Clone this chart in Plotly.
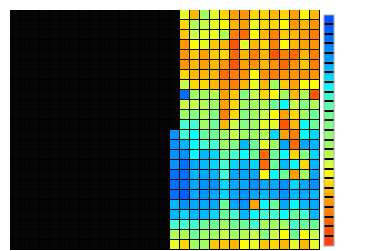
import plotly.graph_objects as go

# Columns 0..30, rows 0..23 (row 0 at top). Columns 0..15 have no data.
n_cols = 31
n_empty_cols = 16
row_ids = list(range(24))
col_ids = list(range(n_cols))

# values for columns 16..30 (None = no data)
values = [
    [None, 7.6, 5.2, 10, 7.6, 6, 4.4, 3.8, 6, 6, 5.2, 6, 4.4, 7, 5.2],
    [None, 6, 9.4, 8.5, 7.6, 7, 5.2, 4.4, 7.6, 6, 6, 7, 3.8, 5.2, 3.8],
    [None, 5.6, 8.5, 7.6, 7.6, 9.4, 3, 2.2, 7, 5.2, 3, 5.6, 5.2, 4.4, 3],
    [None, 3.8, 7, 7.6, 5.6, 5.2, 1.2, 7.6, 5.2, 6, 3, 7, 5.2, 4.4, 3.8],
    [None, 3.8, 5.6, 4.4, 5.6, 6, 2.2, 5.2, 3, 5.2, 1.2, 3, 2.2, 5.2, 3],
    [None, 3.8, 5.2, 4.4, 5.2, 3.8, 1.2, 4.4, 3.8, 5.2, 3.8, 2.2, 3.8, 5.6, 3],
    [None, 6, 5.2, 5.2, 5.2, 2.2, 3, 3.8, 7, 3.8, 3, 3.8, 3.8, 3.8, 3.8],
    [None, 8.5, 6, 6, 5.2, 3.8, 3, 5.2, 7.6, 5.2, 10, 5.6, 4.4, 7, 7],
    [None, 21, 10, 10, 9.4, 4.4, 5.6, 12, 8.5, 6, 7, 10, 5.2, 9.4, 1.2],
    [None, 8.5, 8.5, 9.4, 10, 4.4, 6, 10, 10, 9.4, 13.4, 16, 8.5, 12, 9.4],
    [None, 10, 12, 9.4, 12, 3, 6, 12, 10, 8.5, 7, 4.4, 6, 10, 13.4],
    [None, 15, 15, 10, 13.4, 5.2, 8.5, 12, 10, 7.6, 7.6, 1.2, 5.2, 16, 13.4],
    [19.4, 15, 16, 13.4, 13.4, 10, 8.5, 10, 10, 9.4, 17, 4.4, 3, 16, 17],
    [19.4, 18, 16, 15, 15, 10, 12, 18, 13.4, 7.6, 10, 18.5, 2.2, 18.5, 18],
    [19.4, 19.4, 16, 18, 17, 13.4, 15, 16, 13.4, 2.2, 13.4, 16, 6, 12, 17],
    [19.4, 21, 18.5, 18, 17, 15, 17, 18, 17, 2.2, 13.4, 18, 16, 6, 18],
    [21, 21, 18, 18.5, 18, 15, 18.5, 18.5, 18.5, 7, 16, 13.4, 4.4, 10, 18.5],
    [21, 21, 18.5, 19.4, 19.4, 17, 18.5, 18.5, 19.4, 18.5, 18.5, 19.4, 17, 18.5, 19.4],
    [21, 22, 18.5, 19.4, 18.5, 17, 18.5, 19.4, 18.5, 18, 18.5, 19.4, 18, 18.5, 18],
    [18, 19.4, 18.5, 18.5, 18.5, 13.4, 18.5, 19.4, 4.4, 16, 13.4, 18.5, 16, 18, 18.5],
    [18, 17, 18, 18, 17, 13.4, 15, 18, 16, 15, 15, 16, 13.4, 15, 18],
    [15, 15, 15, 13.4, 13.4, 10, 13.4, 13.4, 15, 10, 10, 10, 15, 13.4, 13.4],
    [9.4, 9.4, 13.4, 10, 10, 8.5, 10, 9.4, 8.5, 12, 8.5, 7, 13.4, 7, 8.5],
    [7.6, 6, 10, 10, 5.6, 5.6, 5.2, 7, 7.6, 5.6, 6, 5.2, 7.6, 5.2, 7.6],
]

palette = [
    "#ff4010", "#ff5000", "#ff6400", "#ff8000", "#ff9800", "#ffb000",
    "#ffd800", "#ffff00", "#d8ff40", "#b8ff50", "#a0ff60", "#90ff70",
    "#80ff80", "#70ff90", "#60ffa0", "#40ffd0", "#00ffff", "#00d8ff",
    "#00b8ff", "#0098ff", "#0088ff", "#0070ff", "#0060ff", "#0050ff",
]
n_levels = len(palette)

colorscale = [[0.0, palette[0]]]
for i, c in enumerate(palette):
    colorscale.append([(i + 0.5) / n_levels, c])
colorscale.append([1.0, palette[-1]])

z = [[None] * n_empty_cols + row for row in values]
z_mask = [[1 if v is None else None for v in row] for row in z]

fig = go.Figure()
fig.add_trace(go.Heatmap(
    z=z_mask, x=col_ids, y=row_ids,
    colorscale=[[0, "#050505"], [1, "#050505"]], zmin=0, zmax=1,
    showscale=False, xgap=1, ygap=1, hoverinfo="skip",
))
fig.add_trace(go.Heatmap(
    z=z, x=col_ids, y=row_ids,
    colorscale=colorscale, zmin=-0.5, zmax=n_levels - 0.5,
    xgap=1, ygap=1,
    colorbar=dict(
        thickness=10, lenmode="pixels", len=231, y=0.5, yanchor="middle",
        ypad=0, x=1.0, xanchor="left", xpad=4,
        outlinewidth=1, outlinecolor="#aaaaaa",
        tickmode="array", tickvals=[i + 0.5 for i in range(n_levels - 1)],
        ticks="inside", ticklen=10, tickwidth=2, tickcolor="#000000",
        showticklabels=False,
    ),
))
fig.update_layout(
    width=371, height=251,
    margin=dict(l=10, r=51, t=10, b=1),
    paper_bgcolor="white", plot_bgcolor="black",
    xaxis=dict(visible=False, range=[-0.5, n_cols - 0.5]),
    yaxis=dict(visible=False, range=[len(row_ids) - 0.5, -0.5]),
    showlegend=False,
)
fig.write_html("out.html")
